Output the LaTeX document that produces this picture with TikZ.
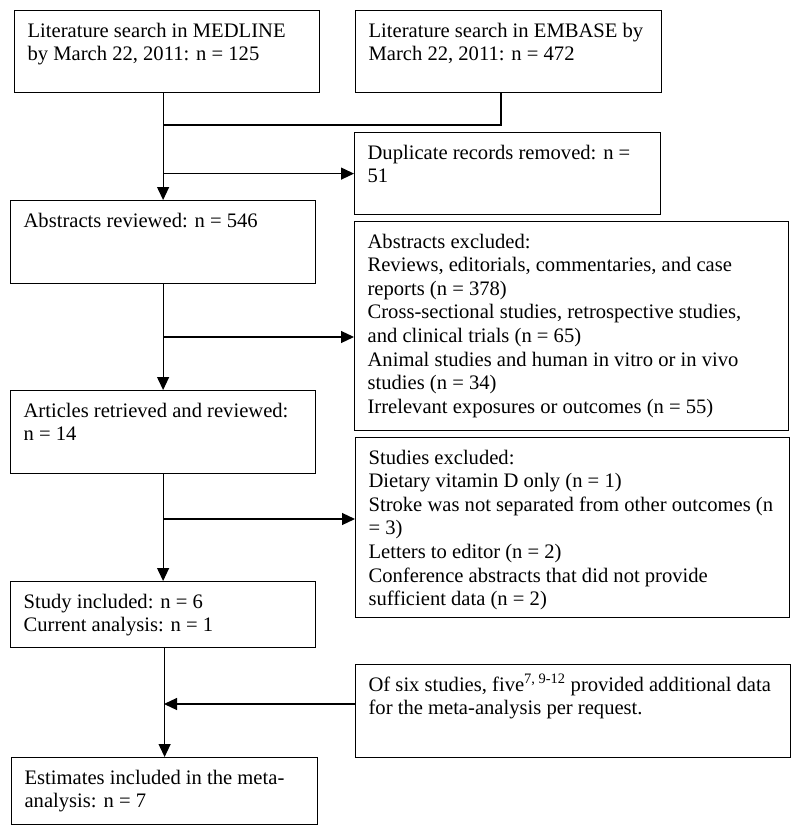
\documentclass[tikz,border=0pt]{standalone}
\usepackage{fontspec}
\setmainfont{Liberation Serif}
\usetikzlibrary{arrows.meta}
\newcommand{\flowtext}[3]{\parbox[c][#2pt][t]{#1pt}{\raggedright\leftskip=13pt\rule{0pt}{26.5pt}#3}}
\tikzset{
	flowbox/.style={draw, line width=1.2pt, inner sep=0pt, anchor=north west,
		font=\fontsize{20.6}{23.6}\selectfont},
	flowline/.style={line width=1.2pt},
	flowarrow/.style={line width=1.2pt, -{Triangle[length=13pt,width=12pt]}}
}
\begin{document}
\begin{tikzpicture}[x=1pt,y=-1pt]
	\useasboundingbox (0,0) rectangle (800,835);

	\node[flowbox] (medline) at (14,10) {\flowtext{305}{82}{Literature search in MEDLINE\\by March 22, 2011: n = 125}};
	\node[flowbox] (embase) at (355,10) {\flowtext{306}{82}{Literature search in EMBASE by\\March 22, 2011: n = 472}};
	\node[flowbox] (dup) at (354,132) {\flowtext{306}{82}{Duplicate records removed: n =\\51}};
	\node[flowbox] (abs) at (10,200) {\flowtext{305}{83}{Abstracts reviewed: n = 546}};
	\node[flowbox] (absex) at (354,221) {\flowtext{434}{209}{Abstracts excluded:\\Reviews, editorials, commentaries, and case\\reports (n = 378)\\Cross-sectional studies, retrospective studies,\\and clinical trials (n = 65)\\Animal studies and human in vitro or in vivo\\studies (n = 34)\\Irrelevant exposures or outcomes (n = 55)}};
	\node[flowbox] (art) at (10,390) {\flowtext{305}{83}{Articles retrieved and reviewed:\\n = 14}};
	\node[flowbox] (studex) at (355,437) {\flowtext{434}{180}{Studies excluded:\\Dietary vitamin D only (n = 1)\\Stroke was not separated from other outcomes (n\\= 3)\\Letters to editor (n = 2)\\Conference abstracts that did not provide\\sufficient data (n = 2)}};
	\node[flowbox] (incl) at (10,581) {\flowtext{305}{66}{Study included: n = 6\\Current analysis: n = 1}};
	\node[flowbox] (add) at (355,664) {\flowtext{435}{93}{Of six studies, five\textsuperscript{7, 9-12} provided additional data\\for the meta-analysis per request.}};
	\node[flowbox] (est) at (11,757) {\flowtext{306}{67}{Estimates included in the meta-\\analysis: n = 7}};

	% merge of the two searches
	\coordinate (mergeR) at (501,125);
	\coordinate (mergeL) at (abs.north |- mergeR);
	\draw[flowline] (embase.south -| mergeR) -- (mergeR) -- (mergeL);
	\draw[flowarrow] (abs.north |- medline.south) -- (abs.north);
	\draw[flowarrow] (abs.north |- dup.west) -- (dup.west);

	% abstracts -> articles
	\coordinate (split2) at (163,337);
	\draw[flowarrow] (abs.south) -- (art.north);
	\draw[flowarrow] (split2) -- (absex.west |- split2);

	% articles -> included
	\coordinate (split3) at (163,519);
	\draw[flowarrow] (art.south) -- (incl.north);
	\draw[flowarrow] (split3) -- (studex.west |- split3);

	% included -> estimates
	\coordinate (join4) at (164,704);
	\draw[flowarrow] (incl.south -| est.north) -- (est.north);
	\draw[flowarrow] (add.west |- join4) -- (join4);
\end{tikzpicture}
\end{document}
